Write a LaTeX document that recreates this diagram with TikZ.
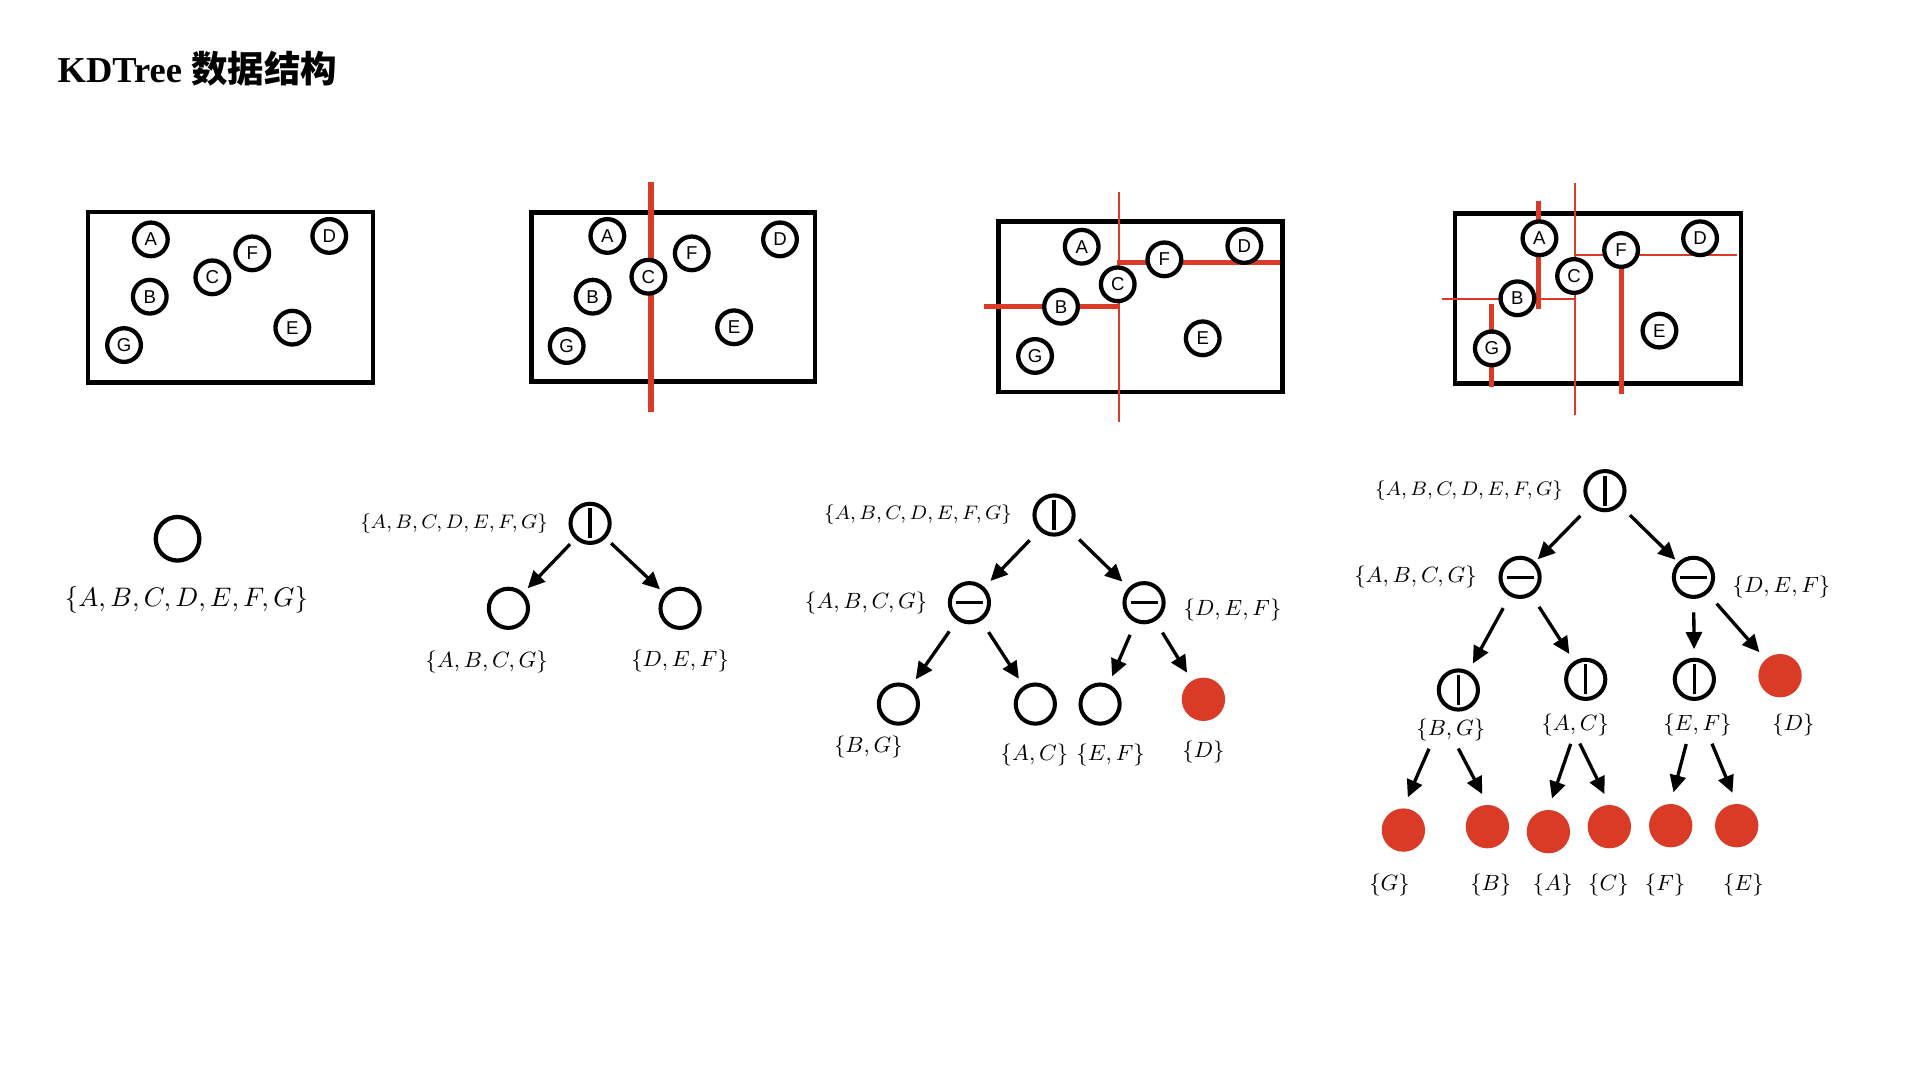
\documentclass[tikz,border=0pt]{standalone}
\usepackage{fontspec}
\setmainfont{Liberation Serif}
\newfontfamily\ptfont{Liberation Sans}
\newfontfamily\cjk{Noto Sans CJK SC}
\usetikzlibrary{positioning,arrows.meta}
\definecolor{kdred}{HTML}{D93B26}
\begin{document}
\begin{tikzpicture}[x=0.5pt, y=-0.5pt, thick,
    spot/.style = {draw, circle, fill=white, line width=1.75pt, minimum size=13.75pt, inner sep=0pt, font=\ptfont\fontsize{7.6}{8}\selectfont},
    panel/.style = {line width=1.8pt},
    redcut/.style = {draw=kdred, line width=2pt},
    redthin/.style = {draw=kdred, line width=0.9pt},
    main/.style = {draw, circle, line width=1.65pt, minimum size=16pt, inner sep=0pt},
    vsplit/.style = {main, path picture={\draw[line width=1.35pt] ([yshift=6.1pt]path picture bounding box.center) -- ([yshift=-6.1pt]path picture bounding box.center);}},
    hsplit/.style = {main, path picture={\draw[line width=1.35pt] ([xshift=-5.5pt]path picture bounding box.center) -- ([xshift=5.5pt]path picture bounding box.center);}},
    leaf/.style = {circle, fill=kdred, minimum size=17.7pt, inner sep=0pt},
    subset/.style = {inner sep=0pt, font=\fontsize{9.5}{11}\selectfont},
    allset/.style = {inner sep=0pt, font=\fontsize{8.1}{10}\selectfont},
    arr/.style = {-{Triangle[length=7pt, width=6.5pt]}, line width=1.35pt, shorten <=5.5pt, shorten >=3.5pt}]
    \useasboundingbox (0,0) rectangle (1568,882);
    \node[anchor=base west, inner sep=0pt, font=\bfseries\fontsize{14.9}{16}\selectfont] (title) at (46.3,67) {KDTree {\cjk 数据结构}};

    % plane 1
    \draw[panel] (72,172.9) rectangle (304.5,312.5);
    \node[spot] (a1) at (123.2,195.5) {A};
    \node[spot] (f1) at (206,206.9) {F};
    \node[spot] (d1) at (268.9,192.7) {D};
    \node[spot] (c1) at (173.4,226.5) {C};
    \node[spot] (b1) at (122.3,242.3) {B};
    \node[spot] (e1) at (238.7,267.6) {E};
    \node[spot] (g1) at (101.3,281.8) {G};

    % plane 2
    \draw[panel] (434.2,173.4) rectangle (665.6,311.7);
    \draw[redcut, line width=2.7pt] (531.7,148.4) -- (531.7,336.2);
    \node[spot] (a2) at (496,192.7) {A};
    \node[spot] (f2) at (564.9,206.9) {F};
    \node[spot] (d2) at (637,195.5) {D};
    \node[spot] (c2) at (529.5,226) {C};
    \node[spot] (b2) at (484,242.3) {B};
    \node[spot] (e2) at (599.5,267.3) {E};
    \node[spot] (g2) at (462.8,282.6) {G};

    % plane 3
    \draw[panel] (815.3,181) rectangle (1047.3,319.9);
    \draw[redthin] (913.9,156.5) -- (913.9,344.4);
    \draw[redcut] (912.2,214.5) -- (1045.4,214.5);
    \draw[redcut] (803.9,250.5) -- (913.9,250.5);
    \node[spot] (a3) at (883.4,201.5) {A};
    \node[spot] (f3) at (950.9,211.8) {F};
    \node[spot] (d3) at (1016.2,200.9) {D};
    \node[spot] (c3) at (912.8,232.2) {C};
    \node[spot] (b3) at (866.5,250.5) {B};
    \node[spot] (e3) at (982.2,276.3) {E};
    \node[spot] (g3) at (845.3,290.7) {G};

    % plane 4
    \draw[panel] (1188.3,174.2) rectangle (1421.6,313.1);
    \draw[redthin] (1286.3,149.7) -- (1286.3,338.9);
    \draw[redthin] (1286.3,208.3) -- (1418.3,208.3);
    \draw[redthin] (1177.4,244.2) -- (1286.3,244.2);
    \draw[redcut] (1256.3,163.9) -- (1256.3,252.6);
    \draw[redcut] (1217.7,248.3) -- (1217.7,316.3);
    \draw[redcut] (1323.9,219.2) -- (1323.9,321.8);
    \node[spot] (a4) at (1257.2,194.6) {A};
    \node[spot] (f4) at (1323.9,204.2) {F};
    \node[spot] (d4) at (1388.4,194.6) {D};
    \node[spot] (c4) at (1285.5,225.4) {C};
    \node[spot] (b4) at (1239.2,243.6) {B};
    \node[spot] (e4) at (1355.2,270) {E};
    \node[spot] (g4) at (1218.3,284.5) {G};

    % tree 1
    \node[main, line width=1.75pt, minimum size=17.8pt] (r1) at (145,440) {};
    \node[inner sep=0pt, font=\fontsize{11.3}{13}\selectfont] (s1) at (152.3,490) {$\{A,B,C,D,E,F,G\}$};

    % tree 2
    \node[vsplit] (r2) at (481.9,427.4) {};
    \node[main] (n2l) at (415.2,496.8) {};
    \node[main] (n2r) at (555.4,496.8) {};
    \node[allset, left=8pt of r2] (s2) {$\{A,B,C,D,E,F,G\}$};
    \node[subset] (s2l) at (397.4,540.4) {$\{A,B,C,G\}$};
    \node[subset] (s2r) at (555.4,540) {$\{D,E,F\}$};
    \draw[arr, shorten <=3pt, shorten >=2.5pt] (r2) -- (n2l);
    \draw[arr, shorten <=3pt, shorten >=2.5pt] (r2) -- (n2r);

    % tree 3
    \node[vsplit] (r3) at (860.8,420.6) {};
    \node[hsplit] (h3l) at (791.7,492.2) {};
    \node[hsplit] (h3r) at (934.3,492.2) {};
    \node[main] (n3bg) at (733.7,575) {};
    \node[main] (n3ac) at (845.5,575) {};
    \node[main] (n3ef) at (898.4,575) {};
    \node[leaf] (n3d) at (982.8,571.1) {};
    \node[allset, left=8pt of r3] (s3) {$\{A,B,C,D,E,F,G\}$};
    \node[subset, left=8pt of h3l] (s3l) {$\{A,B,C,G\}$};
    \node[subset, anchor=west] (s3r) at (965.9,498.2) {$\{D,E,F\}$};
    \node[subset] (s3bg) at (709.2,609.8) {$\{B,G\}$};
    \node[subset] (s3ac) at (844.8,616.6) {$\{A,C\}$};
    \node[subset] (s3ef) at (907,616.6) {$\{E,F\}$};
    \node[subset] (s3d) at (982.8,613.9) {$\{D\}$};
    \draw[arr] (r3) -- (h3l);
    \draw[arr] (r3) -- (h3r);
    \draw[arr] (h3l) -- (n3bg);
    \draw[arr] (h3l) -- (n3ac);
    \draw[arr] (h3r) -- (n3ef);
    \draw[arr] (h3r) -- (n3d);

    % tree 4
    \node[vsplit] (r4) at (1310.7,400.7) {};
    \node[hsplit] (h4l) at (1241.4,471.5) {};
    \node[hsplit] (h4r) at (1383,471.5) {};
    \node[vsplit] (v4bg) at (1191,563.5) {};
    \node[vsplit] (v4ac) at (1295,554.8) {};
    \node[vsplit] (v4ef) at (1383.7,554.8) {};
    \node[leaf] (l4d) at (1453.7,551.8) {};
    \node[leaf] (l4g) at (1146.1,677.9) {};
    \node[leaf] (l4b) at (1214.7,675.1) {};
    \node[leaf] (l4a) at (1264.5,679.2) {};
    \node[leaf] (l4c) at (1314.3,675.1) {};
    \node[leaf] (l4f) at (1364.4,674.3) {};
    \node[leaf] (l4e) at (1418.3,674.3) {};
    \node[allset, left=8pt of r4] (s4) {$\{A,B,C,D,E,F,G\}$};
    \node[subset, left=8.5pt of h4l] (s4l) {$\{A,B,C,G\}$};
    \node[subset, anchor=west] (s4r) at (1414.2,479.1) {$\{D,E,F\}$};
    \node[subset] (s4bg) at (1184.8,596.2) {$\{B,G\}$};
    \node[subset] (s4ac) at (1286.5,592) {$\{A,C\}$};
    \node[subset] (s4ef) at (1386.2,592) {$\{E,F\}$};
    \node[subset] (s4d) at (1464.6,592) {$\{D\}$};
    \node[subset] (s4g) at (1134.7,722.8) {$\{G\}$};
    \node[subset] (s4b) at (1217.4,722.8) {$\{B\}$};
    \node[subset] (s4a) at (1268.1,722.8) {$\{A\}$};
    \node[subset] (s4c) at (1313.5,722.8) {$\{C\}$};
    \node[subset] (s4f) at (1359.8,722.8) {$\{F\}$};
    \node[subset] (s4e) at (1423.8,722.8) {$\{E\}$};
    \draw[arr, shorten >=1.5pt] (r4) -- (h4l);
    \draw[arr, shorten >=1.5pt] (r4) -- (h4r);
    \draw[arr] (h4l) -- (v4bg);
    \draw[arr] (h4l) -- (v4ac);
    \draw[arr] (h4r) -- (v4ef);
    \draw[arr] (h4r) -- (l4d);
    \draw[arr, shorten <=3pt, shorten >=4.5pt] ([xshift=-7.7pt]s4bg.south) -- (l4g.north);
    \draw[arr, shorten <=3pt, shorten >=4.5pt] ([xshift=1.7pt]s4bg.south) -- (l4b.north);
    \draw[arr, shorten <=3pt, shorten >=4.5pt] ([xshift=-0.9pt]s4ac.south) -- (l4a.north);
    \draw[arr, shorten <=3pt, shorten >=4.5pt] ([xshift=0.5pt]s4ac.south) -- (l4c.north);
    \draw[arr, shorten <=3pt, shorten >=4.5pt] ([xshift=-3.8pt]s4ef.south) -- (l4f.north);
    \draw[arr, shorten <=3pt, shorten >=4.5pt] ([xshift=4.8pt]s4ef.south) -- (l4e.north);
\end{tikzpicture}
\end{document}
